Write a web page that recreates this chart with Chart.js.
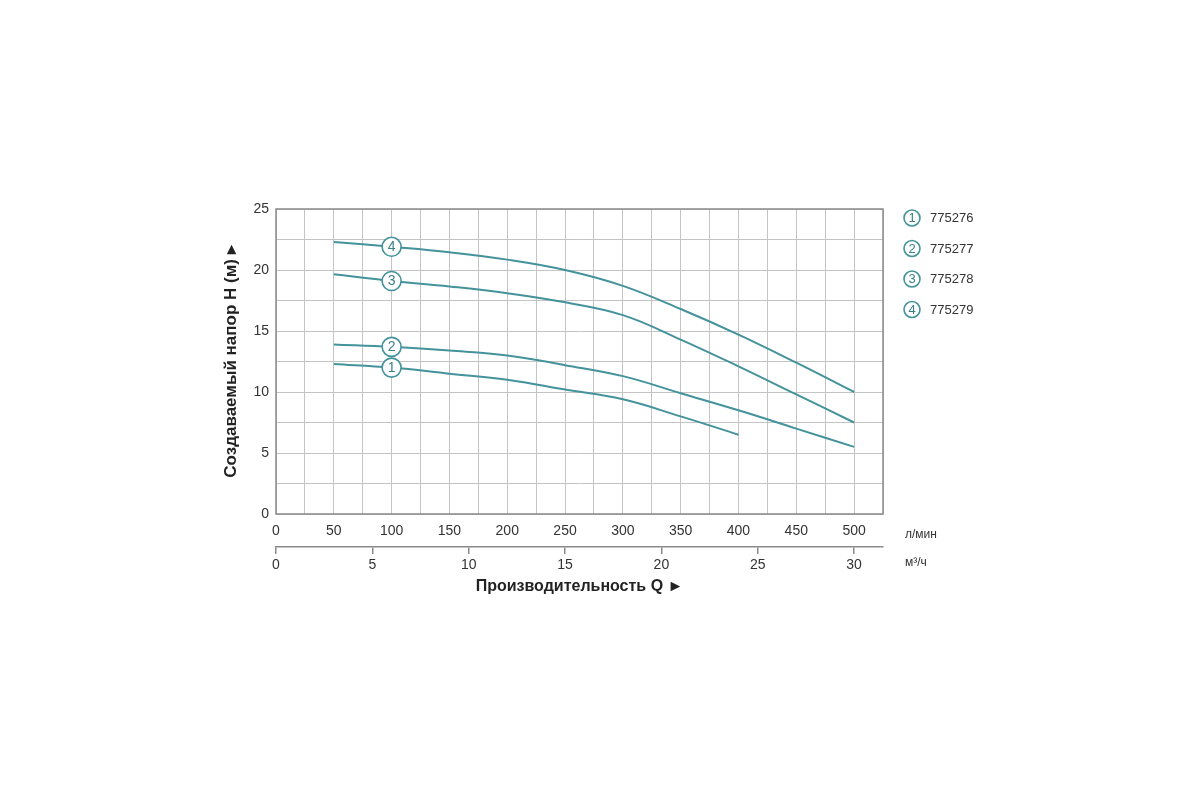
<!DOCTYPE html>
<html>
<head>
<meta charset="utf-8">
<script src="https://cdn.jsdelivr.net/npm/chart.js@4/dist/chart.umd.min.js"></script>
<style>
  html, body { margin: 0; padding: 0; background: #fff; }
  #wrap { width: 1200px; height: 800px; }
</style>
</head>
<body>
<div id="wrap"><canvas id="chart" width="1200" height="800"></canvas></div>
<script>
// flow, l/min
const flowLpm = [50, 100, 150, 200, 250, 300, 350, 400, 450, 500];
// head, m (curve 1 stops at 400 l/min)
const head1 = [12.3, 12.0, 11.5, 11.0, 10.2, 9.4, 8.0, 6.5];
const head2 = [13.9, 13.7, 13.4, 13.0, 12.2, 11.3, 9.9, 8.5, 7.0, 5.5];
const head3 = [19.65, 19.1, 18.65, 18.1, 17.35, 16.3, 14.3, 12.1, 9.8, 7.5];
const head4 = [22.3, 21.9, 21.45, 20.85, 20.0, 18.7, 16.8, 14.7, 12.4, 10.0];
const models = ["775276", "775277", "775278", "775279"];
const markerAt = 100;

const teal = "#44939c";
const font = "'Liberation Sans', Arial, sans-serif";
const curves = [head1, head2, head3, head4];

function toPoints(h) {
  return h.map((v, i) => ({ x: flowLpm[i], y: v }));
}

const frame = {
  id: "frame",
  afterDraw(chart) {
    const ctx = chart.ctx, a = chart.chartArea;
    ctx.save();
    ctx.strokeStyle = "#8a8a8a";
    ctx.lineWidth = 1.5;
    ctx.strokeRect(a.left, a.top, a.right - a.left, a.bottom - a.top);
    ctx.restore();
  }
};

function numCircle(ctx, x, y, r, n, fs) {
  ctx.beginPath();
  ctx.arc(x, y, r, 0, Math.PI * 2);
  ctx.fillStyle = "#fff";
  ctx.fill();
  ctx.lineWidth = 1.6;
  ctx.strokeStyle = teal;
  ctx.stroke();
  ctx.fillStyle = "#3b7f88";
  ctx.font = fs + "px " + font;
  ctx.textAlign = "center";
  ctx.textBaseline = "middle";
  ctx.fillText(String(n), x, y + 0.5);
}

const labels = {
  id: "labels",
  afterDatasetsDraw(chart) {
    const ctx = chart.ctx;
    const xs = chart.scales.x, ys = chart.scales.y;
    ctx.save();
    curves.forEach((h, i) => {
      const idx = flowLpm.indexOf(markerAt);
      numCircle(ctx, xs.getPixelForValue(markerAt), ys.getPixelForValue(h[idx]), 9.5, i + 1, 14);
    });
    ctx.restore();
  },
  afterDraw(chart) {
    const ctx = chart.ctx, a = chart.chartArea;
    ctx.save();
    models.forEach((m, i) => {
      const y = a.top + 9 + i * 30.5;
      numCircle(ctx, a.right + 29, y, 8, i + 1, 13);
      ctx.fillStyle = "#333";
      ctx.font = "13px " + font;
      ctx.textAlign = "left";
      ctx.fillText(m, a.right + 47, y + 0.5);
    });
    ctx.fillStyle = "#333";
    ctx.font = "12px " + font;
    ctx.textAlign = "left";
    ctx.textBaseline = "middle";
    ctx.fillText("л/мин", a.right + 22, 535);
    ctx.fillText("м³/ч", a.right + 22, 563);
    ctx.restore();
  }
};

new Chart(document.getElementById("chart"), {
  type: "line",
  data: {
    datasets: curves.map((h, i) => ({
      label: models[i],
      data: toPoints(h),
      borderColor: teal,
      borderWidth: 2,
      pointRadius: 0,
      fill: false,
      tension: 0.4
    }))
  },
  options: {
    responsive: false,
    animation: false,
    layout: { padding: { left: 215, right: 317, top: 209, bottom: 200 } },
    plugins: { legend: { display: false }, tooltip: { enabled: false } },
    scales: {
      x: {
        type: "linear",
        position: "bottom",
        min: 0, max: 525,
        afterFit(s) { s.height = 33; },
        grid: { color: "#c4c4c4", lineWidth: 1, drawTicks: false },
        border: { display: false },
        ticks: {
          stepSize: 25, includeBounds: false, padding: 9,
          color: "#333", font: { family: font, size: 14 },
          maxRotation: 0, autoSkip: false,
          callback: v => (v % 50 === 0 && v <= 500 ? v : "")
        }
      },
      x2: {
        type: "linear",
        position: "bottom",
        min: 0, max: 31.5,
        afterFit(s) { s.height = 53; },
        grid: { drawOnChartArea: false, drawTicks: true, tickLength: 7, color: "#8a8a8a", lineWidth: 1.5 },
        border: { display: true, color: "#8a8a8a", width: 1.5 },
        ticks: {
          stepSize: 5, includeBounds: false, padding: 3,
          color: "#333", font: { family: font, size: 14 }, maxRotation: 0
        },
        title: {
          display: true,
          text: "Производительность Q ►",
          color: "#222",
          font: { family: font, size: 16, weight: "bold" },
          padding: { top: 0, bottom: 4 }
        }
      },
      y: {
        min: 0, max: 25,
        afterFit(s) { s.width = 61; },
        grid: { color: "#c4c4c4", lineWidth: 1, drawTicks: false },
        border: { display: false },
        ticks: {
          stepSize: 2.5, padding: 7,
          color: "#333", font: { family: font, size: 14 },
          callback: v => (v % 5 === 0 ? v : "")
        },
        title: {
          display: true,
          text: "Создаваемый напор H (м) ▸",
          color: "#222",
          font: { family: font, size: 17, weight: "bold" },
          padding: { top: 6, bottom: 0 }
        }
      }
    }
  },
  plugins: [frame, labels]
});
</script>
</body>
</html>
